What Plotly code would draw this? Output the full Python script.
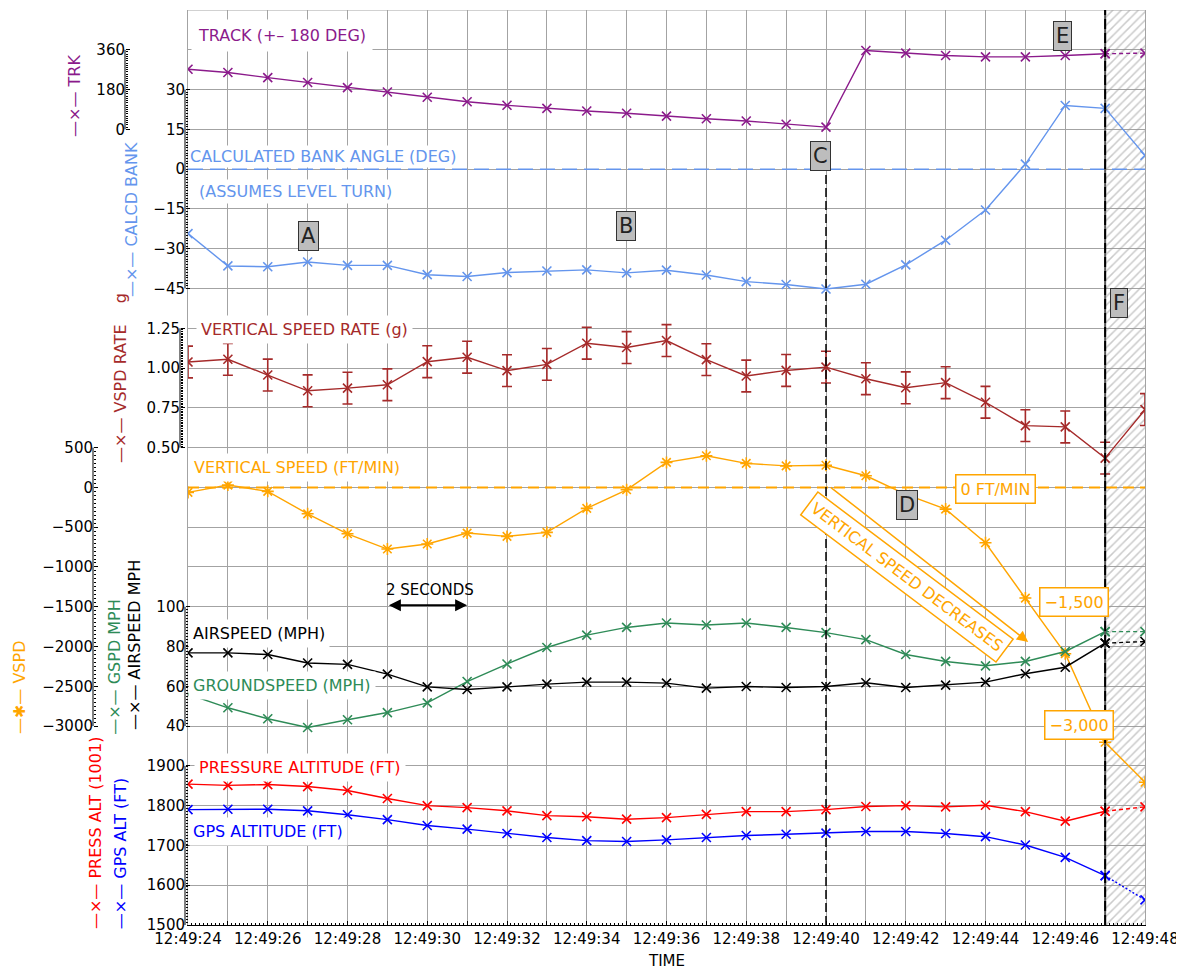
import numpy as np
import plotly.graph_objects as go

# ---------------- data ----------------
TIME_LABELS = ["12:49:24", "12:49:25", "12:49:26", "12:49:27", "12:49:28", "12:49:29",
               "12:49:30", "12:49:31", "12:49:32", "12:49:33", "12:49:34", "12:49:35",
               "12:49:36", "12:49:37", "12:49:38", "12:49:39", "12:49:40", "12:49:41",
               "12:49:42", "12:49:43", "12:49:44", "12:49:45", "12:49:46", "12:49:47",
               "12:49:48"]

TRK = [272, 257, 234, 212, 189, 169, 145, 125, 109, 95, 83, 73, 60, 48, 38, 23, 10,
       357, 345, 334, 328, 328, 334, 342, 345]
BANK = [-24.3, -36.5, -36.8, -35.0, -36.3, -36.3, -39.8, -40.5, -39.0, -38.4, -38.0, -39.1,
        -38.1, -39.9, -42.4, -43.5, -45.2, -43.4, -36.1, -26.8, -15.4, 1.9, 24.0, 22.9, 5.2]
VSPD_RATE = [1.038, 1.055, 0.956, 0.857, 0.874, 0.895, 1.040, 1.068, 0.984, 1.023, 1.156,
             1.129, 1.173, 1.053, 0.950, 0.985, 1.006, 0.933, 0.876, 0.908, 0.785, 0.638,
             0.630, 0.434, 0.739]
VSPD_RATE_ERR = [0.1] * 25
VSPD = [-63, 29, -50, -332, -583, -775, -712, -574, -616, -565, -264, -30, 314, 397, 302,
        271, 278, 146, -88, -273, -696, -1391, -2090, -3203, -3706]
GSPD = [56.0, 49.2, 43.7, 39.3, 43.2, 46.8, 51.7, 62.4, 71.2, 79.5, 85.7, 89.6, 91.8, 90.8,
        91.8, 89.6, 87.0, 83.5, 76.0, 72.5, 70.3, 72.5, 77.5, 87.5, 87.5]
AIRSPD = [76.8, 76.8, 76.0, 71.7, 71.0, 66.1, 59.7, 58.4, 59.7, 61.1, 62.1, 62.1, 61.6, 59.1,
          59.9, 59.4, 59.9, 61.8, 59.4, 60.6, 62.1, 66.3, 69.6, 81.7, 82.5]
PRESS_ALT = [1854, 1851, 1853, 1848, 1838, 1818, 1800, 1795, 1787, 1775, 1772, 1766, 1770,
             1778, 1785, 1785, 1790, 1798, 1800, 1797, 1801, 1785, 1761, 1786, 1797]
GPS_ALT = [1790, 1791, 1791, 1787, 1777, 1765, 1750, 1741, 1730, 1720, 1712, 1710, 1714,
           1720, 1725, 1728, 1731, 1735, 1735, 1730, 1722, 1701, 1670, 1624, 1563]

TRK_TICKS = [0, 180, 360]
BANK_TICKS = [-45, -30, -15, 0, 15, 30]
RATE_TICKS = [0.5, 0.75, 1.0, 1.25]
VSPD_TICKS = [-3000, -2500, -2000, -1500, -1000, -500, 0, 500]
SPD_TICKS = [40, 60, 80, 100]
ALT_TICKS = [1500, 1600, 1700, 1800, 1900]

EVENT_C = "12:49:40"
HATCH_START = "12:49:47"
HATCH_END = "12:49:48"


def sec(label, off=0.0):
    h, m, s = label.split(":")
    return int(h) * 3600 + int(m) * 60 + float(s) + off


X = [sec(t) for t in TIME_LABELS]
T0 = X[0]

# ---------------- layout geometry ----------------
OFF = 8                      # page body margin
W, H = 1176, 963
ML, MR, MT, MB = 2, 39, 2, 46
PW = W - ML - MR
PH = H - MT - MB
FONT = "DejaVu Sans"
GRID = "#a3a3a3"

PURPLE = "#8B1A8B"
CORN = "#6495ED"
BROWN = "#A52A2A"
ORANGE = "#FFA500"
GREEN = "#2E8B57"
BLACK = "#000000"
RED = "#FF0000"
BLUE = "#0000FF"


def pp(px):  # page pixel column -> paper fraction
    return (px - OFF - ML) / PW


def ppy(py):  # page pixel row -> paper fraction
    return 1 - (py - OFF - MT) / PH


def tt(s):  # seconds after 12:49:24 -> x value
    return T0 + s


fig = go.Figure()

# hatched "end of data" region
fig.add_trace(go.Scatter(
    x=[sec(HATCH_START), sec(HATCH_END), sec(HATCH_END), sec(HATCH_START), sec(HATCH_START)],
    y=[0, 0, 23, 23, 0], xaxis="x", yaxis="y", mode="lines", line=dict(width=0),
    fill="toself", fillcolor="rgba(0,0,0,0)",
    fillpattern=dict(shape="/", fgcolor="#959595", bgcolor="rgba(0,0,0,0)", size=6, solidity=0.25),
    hoverinfo="skip", showlegend=False))


def add_series(vals, yax, color, symbol="x-thin-open", msize=9, tail_dash=None, err=None):
    if tail_dash is None:
        fig.add_trace(go.Scatter(
            x=X, y=vals, yaxis=yax, mode="lines+markers",
            line=dict(color=color, width=1.4),
            marker=dict(symbol=symbol, size=msize, line=dict(color=color, width=1.6)),
            error_y=err, showlegend=False))
    else:
        fig.add_trace(go.Scatter(
            x=X[:-1], y=vals[:-1], yaxis=yax, mode="lines+markers",
            line=dict(color=color, width=1.4),
            marker=dict(symbol=symbol, size=msize, line=dict(color=color, width=1.6)),
            showlegend=False))
        fig.add_trace(go.Scatter(
            x=X[-2:], y=vals[-2:], yaxis=yax, mode="lines+markers",
            line=dict(color=color, width=1.4, dash=tail_dash),
            marker=dict(symbol=symbol, size=msize, line=dict(color=color, width=1.6)),
            showlegend=False))


add_series(TRK, "y2", PURPLE, tail_dash="4px,3px")
add_series(BANK, "y3", CORN)
add_series(VSPD_RATE, "y4", BROWN,
           err=dict(type="data", array=VSPD_RATE_ERR, visible=True, color=BROWN, thickness=1.6, width=5))
add_series(VSPD, "y5", ORANGE, symbol="asterisk-open", msize=10)
add_series(GSPD, "y6", GREEN, tail_dash="4px,3px")
add_series(AIRSPD, "y6", BLACK, tail_dash="4px,3px")
add_series(PRESS_ALT, "y7", RED, tail_dash="4px,3px")
add_series(GPS_ALT, "y7", BLUE, tail_dash="2px,2px")


def free_axis(rng, pos, ticks, minor_vals, fmt):
    return dict(overlaying="y", anchor="free", position=pos, side="left", range=rng,
                tickmode="array", tickvals=ticks, tickformat=fmt,
                ticks="inside", ticklen=4, tickwidth=1, tickcolor="black",
                showgrid=False, zeroline=False, showline=False, automargin=False,
                tickfont=dict(size=15, color="black", family=FONT),
                minor=dict(tickmode="array", tickvals=minor_vals, ticks="inside",
                           ticklen=2, tickwidth=1, tickcolor="black", showgrid=False),
                fixedrange=True)


AX = {
    "yaxis2": (free_axis([-3600, 540], pp(125), TRK_TICKS, list(np.arange(0, 361, 10)), "d"), TRK_TICKS),
    "yaxis3": (free_axis([-285, 60], pp(185), BANK_TICKS, list(np.arange(-45, 31, 1)), "d"), BANK_TICKS),
    "yaxis4": (free_axis([-2.5, 3.25], pp(180), RATE_TICKS, list(np.arange(0.5, 1.2501, 0.01)), ".2f"), RATE_TICKS),
    "yaxis5": (free_axis([-5500, 6000], pp(93), VSPD_TICKS, list(np.arange(-3000, 501, 50)), "d"), VSPD_TICKS),
    "yaxis6": (free_axis([-60, 400], pp(185), SPD_TICKS, list(np.arange(40, 101, 1.5)), "d"), SPD_TICKS),
    "yaxis7": (free_axis([1500, 3800], pp(185), ALT_TICKS, list(np.arange(1500, 1901, 7.5)), "d"), ALT_TICKS),
}

xtext = [lab if i % 2 == 0 else "" for i, lab in enumerate(TIME_LABELS)]

layout = dict(
    width=W, height=H, margin=dict(l=ML, r=MR, t=MT, b=MB, autoexpand=False),
    paper_bgcolor="white", plot_bgcolor="white", showlegend=False,
    font=dict(family=FONT, size=15, color="black"),
    xaxis=dict(domain=[pp(188), 1], range=[X[0], X[-1]], anchor="y",
               tickmode="array", tickvals=X, ticktext=xtext,
               showgrid=True, gridcolor=GRID, gridwidth=1,
               ticks="inside", ticklen=4, tickcolor="black",
               showline=True, linecolor="black", linewidth=1, zeroline=False,
               tickfont=dict(size=15, family=FONT), automargin=False,
               minor=dict(dtick=0.1, tick0=0, ticks="inside", ticklen=2, tickcolor="black", showgrid=False),
               fixedrange=True),
    yaxis=dict(domain=[0, 1], range=[0, 23], tickmode="linear", tick0=0, dtick=1,
               showgrid=True, gridcolor=GRID, gridwidth=1, showticklabels=False, ticks="",
               zeroline=False, showline=True, linecolor=GRID, mirror=True, anchor="x",
               automargin=False, fixedrange=True),
)
for k, (v, _) in AX.items():
    layout[k] = v
fig.update_layout(**layout)

shapes = []
# axis spines (short)
for k, (v, ticks) in AX.items():
    shapes.append(dict(type="line", xref="paper", yref="y" + k[5:],
                       x0=v["position"], x1=v["position"], y0=min(ticks), y1=max(ticks),
                       line=dict(color="black", width=1)))
# top border
shapes.append(dict(type="line", xref="x domain", yref="y", x0=0, x1=1, y0=23, y1=23,
                   line=dict(color=GRID, width=1)))
# zero lines
shapes.append(dict(type="line", xref="x domain", yref="y3", x0=0, x1=1, y0=0, y1=0,
                   line=dict(color=CORN, width=1.5, dash="15px,7px")))
shapes.append(dict(type="line", xref="x domain", yref="y5", x0=0, x1=1, y0=0, y1=0,
                   line=dict(color=ORANGE, width=2, dash="11px,6px")))
# event lines
shapes.append(dict(type="line", xref="x", yref="y", x0=sec(EVENT_C), x1=sec(EVENT_C), y0=0, y1=19,
                   line=dict(color="black", width=1.5, dash="9px,4px")))
shapes.append(dict(type="line", xref="x", yref="y domain", x0=sec(HATCH_START), x1=sec(HATCH_START),
                   y0=0, y1=1, line=dict(color="#555555", width=2)))
shapes.append(dict(type="line", xref="x", yref="y domain", x0=sec(HATCH_START), x1=sec(HATCH_START),
                   y0=0, y1=1, line=dict(color="black", width=2, dash="10px,4px")))
fig.update_layout(shapes=shapes)

ann = []


def label(text, s, u, color, size=16, pad=4):
    ann.append(dict(text=text, x=tt(s), y=u, xref="x", yref="y", xanchor="left", yanchor="middle",
                    showarrow=False, bgcolor="white", borderpad=pad,
                    font=dict(color=color, size=size, family=FONT)))


label("TRACK (+\u2013 180 DEG)", 0.08, 22.35, PURPLE, pad=6)
label("CALCULATED BANK ANGLE (DEG)", 0.0, 19.33, CORN, pad=1)
label("(ASSUMES LEVEL TURN)", 0.2, 18.43, CORN, pad=2)
label("VERTICAL SPEED RATE (g)", 0.2, 14.98, BROWN)
label("VERTICAL SPEED (FT/MIN)", 0.03, 11.51, ORANGE)
label("AIRSPEED (MPH)", 0.0, 7.32, BLACK)
label("GROUNDSPEED (MPH)", 0.0, 6.03, GREEN)
label("PRESSURE ALTITUDE (FT)", 0.15, 3.95, RED)
label("GPS ALTITUDE (FT)", 0.0, 2.36, BLUE)


def letter(ch, s, u):
    ann.append(dict(text=ch, x=tt(s), y=u, xref="x", yref="y", showarrow=False,
                    bgcolor="#bdbdbd", bordercolor="#333333", borderwidth=1, borderpad=2,
                    font=dict(color="#222222", size=21, family=FONT)))


letter("A", 3.03, 17.32)
letter("B", 10.98, 17.57)
letter("C", 15.85, 19.33)
letter("D", 18.03, 10.56)
letter("E", 21.94, 22.35)
letter("F", 23.35, 15.64)


def obox(text, s, u, angle=0):
    ann.append(dict(text=text, x=tt(s), y=u, xref="x", yref="y", showarrow=False, textangle=angle,
                    bgcolor="white", bordercolor=ORANGE, borderwidth=1.5, borderpad=4,
                    font=dict(color=ORANGE, size=16, family=FONT)))


obox("0 FT/MIN", 20.26, 10.96)
obox("\u22121,500", 22.22, 8.12)
obox("\u22123,000", 22.35, 5.03)
obox("VERTICAL SPEED DECREASES", 18.03, 8.75, angle=37)

# arrow for vertical speed decreases
ann.append(dict(text="", x=tt(21.07), y=-1943, xref="x", yref="y5",
                ax=tt(16.08), ay=16, axref="x", ayref="y5", showarrow=True,
                arrowhead=2, arrowsize=1.5, arrowwidth=1.5, arrowcolor=ORANGE))
# 2 seconds scale
ann.append(dict(text="2 SECONDS", x=tt(6.07), y=8.42, xref="x", yref="y", showarrow=False,
                font=dict(size=15, color="black", family=FONT)))
ann.append(dict(text="", x=tt(7), y=8.04, xref="x", yref="y", ax=tt(5), ay=8.04, axref="x", ayref="y",
                showarrow=True, arrowside="end+start", arrowhead=2, startarrowhead=2,
                arrowsize=1.2, startarrowsize=1.2, arrowwidth=2, arrowcolor="black"))
# x axis title
ann.append(dict(text="TIME", x=0.5, xref="x domain", y=ppy(961), yref="paper", showarrow=False,
                yanchor="middle", font=dict(size=15, color="black", family=FONT)))


def axtitle(text, px, u, color):
    ann.append(dict(text=text, x=pp(px), y=u, xref="paper", yref="y", textangle=-90, showarrow=False,
                    xanchor="center", yanchor="middle", font=dict(color=color, size=16, family=FONT)))


axtitle("\u2014\u00d7\u2014 TRK", 75, 20.84, PURPLE)
axtitle("\u2014\u00d7\u2014 CALCD BANK", 131, 17.72, CORN)
axtitle("\u2014\u00d7\u2014 VSPD RATE\u2003 g", 121, 13.75, BROWN)
axtitle("\u2014\u2731\u2014 VSPD", 19, 5.98, ORANGE)
axtitle("\u2014\u00d7\u2014 GSPD MPH", 115, 6.49, GREEN)
axtitle("\u2014\u00d7\u2014 AIRSPEED MPH", 135, 7.04, BLACK)
axtitle("\u2014\u00d7\u2014 PRESS ALT (1001)", 95, 2.31, RED)
axtitle("\u2014\u00d7\u2014 GPS ALT (FT)", 120, 1.78, BLUE)

fig.update_layout(annotations=ann)
fig.write_html("out.html")
